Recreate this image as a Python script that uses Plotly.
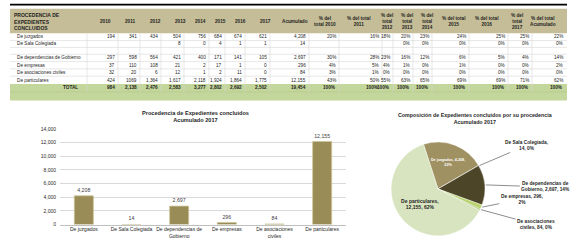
import math
import plotly.graph_objects as go

W, H = 576, 250

# ---------------- data ----------------
years = ["2010", "2011", "2012", "2013", "2014", "2015", "2016", "2017"]
row_labels = ["De juzgados", "De Sala Colegiada", "De dependencias de Gobierno",
              "De empresas", "De asociaciones civiles", "De particulares"]

juzgados = [194, 341, 434, 504, 756, 684, 674, 621]
sala = [None, None, None, 8, 0, 4, 1, 1]
dependencias = [297, 598, 564, 421, 400, 171, 141, 105]
empresas = [37, 110, 108, 21, 2, 17, 1, 0]
asociaciones = [32, 20, 6, 12, 1, 2, 11, 0]
particulares = [424, "1069", 1364, 1617, 2118, 1924, 1864, 1775]
totales = [984, 2138, 2476, 2583, 3277, 2802, 2692, 2502]

acumulado = [4208, 14, 2697, 296, 84, 12155]
total_acumulado = 19454

pct_juzgados = ["20%", "16%", "18%", "20%", "23%", "24%", "25%", "25%", "22%"]
pct_sala = ["", "", "", "0%", "0%", "0%", "0%", "0%", "0%"]
pct_dependencias = ["30%", "28%", "23%", "16%", "12%", "6%", "5%", "4%", "14%"]
pct_empresas = ["4%", "5%", "4%", "1%", "0%", "1%", "0%", "0%", "2%"]
pct_asociaciones = ["3%", "1%", "0%", "0%", "0%", "0%", "0%", "0%", "0%"]
pct_particulares = ["43%", "50%", "55%", "63%", "65%", "69%", "69%", "71%", "62%"]
pct_totales = ["100%"] * 9

table_headers = years + ["Acumulado", "% del<br>total 2010", "% del total<br>2011",
                         "% del<br>total<br>2012", "% del<br>total<br>2013",
                         "% del<br>total<br>2014", "% del total<br>2015",
                         "% del total<br>2016", "% del<br>total<br>2017",
                         "% del total<br>Acumulado"]

bar_tick_labels = ["De juzgados", "De Sala Colegiada", "De dependencias de<br>Gobierno",
                   "De empresas", "De asociaciones<br>civiles", "De particulares"]
pie_labels = ["De juzgados", "De Sala Colegiada", "De dependencias de Gobierno",
              "De empresas", "De asociaciones civiles", "De particulares"]

# ---------------- helpers ----------------
FONT = "Liberation Sans"
TXT = "#1f1f1f"
TS = 4.7  # table font size


def px(x):
    return x / W


def py(y):
    return 1 - y / H


def fmt(v):
    if v is None:
        return ""
    if isinstance(v, str):
        return v
    return f"{v:,}"


fig = go.Figure()
annotations = []
shapes = []

# ---------------- table ----------------
value_right = [116, 138, 159, 182, 207, 223, 243, 268, 307, 337, 380, 391, 411, 430, 467, 506, 530, 564]
header_center = [105, 130, 155, 180, 200, 220, 240, 265, 295, 325, 358, 387, 407, 427, 453, 486, 517, 543]
TL, TR = 10, 567
rows_y = [(31, 38.5), (38.5, 45.5), (52.5, 60), (60, 67.5), (67.5, 75), (75, 83)]
total_y = (83, 91)

shapes.append(dict(type="rect", xref="paper", yref="paper", x0=px(TL), x1=px(TR),
                   y0=py(2.6), y1=py(0.8), fillcolor="#000000", line_width=0))
shapes.append(dict(type="rect", xref="paper", yref="paper", x0=px(TL), x1=px(TR),
                   y0=py(31), y1=py(6), fillcolor="#c4bd97", line_width=0, layer="below"))
shapes.append(dict(type="rect", xref="paper", yref="paper", x0=px(TL), x1=px(TR),
                   y0=py(100), y1=py(83), fillcolor="#c3d69b", line_width=0, layer="below"))
shapes.append(dict(type="line", xref="paper", yref="paper", x0=px(TL), x1=px(TR),
                   y0=py(91), y1=py(91), line=dict(color="#b5c98d", width=0.6)))
for yb in [38.5, 45.5, 52.5, 60, 67.5, 75]:
    shapes.append(dict(type="line", xref="paper", yref="paper", x0=px(TL), x1=px(TR),
                       y0=py(yb), y1=py(yb), line=dict(color="#d6d6d6", width=0.6)))
for xv in [87] + [r + 2 for r in value_right[:-1]]:
    shapes.append(dict(type="line", xref="paper", yref="paper", x0=px(xv), x1=px(xv),
                       y0=py(91), y1=py(31), line=dict(color="#d6d6d6", width=0.6)))

annotations.append(dict(x=px(12), y=py(18.5), xref="paper", yref="paper", xanchor="left",
                        yanchor="middle", align="left", showarrow=False,
                        text="<b>PROCEDENCIA DE<br>EXPEDIENTES<br>CONCLUIDOS</b>",
                        font=dict(family=FONT, size=5, color=TXT)))
for hx, ht in zip(header_center, table_headers):
    annotations.append(dict(x=px(hx), y=py(18.5), xref="paper", yref="paper", xanchor="center",
                            yanchor="middle", align="center", showarrow=False,
                            text=f"<b>{ht}</b>", font=dict(family=FONT, size=TS, color=TXT)))

body_counts = [juzgados, sala, dependencias, empresas, asociaciones, particulares]
body_pcts = [pct_juzgados, pct_sala, pct_dependencias, pct_empresas, pct_asociaciones, pct_particulares]
for i, label in enumerate(row_labels):
    y0, y1 = rows_y[i]
    yc = (y0 + y1) / 2
    annotations.append(dict(x=px(15), y=py(yc), xref="paper", yref="paper", xanchor="left",
                            yanchor="middle", showarrow=False, text=label,
                            font=dict(family=FONT, size=TS, color=TXT)))
    cells = [fmt(v) for v in body_counts[i]] + [fmt(acumulado[i])] + body_pcts[i]
    for xr, t in zip(value_right, cells):
        if t == "":
            continue
        annotations.append(dict(x=px(xr + 1), y=py(yc), xref="paper", yref="paper",
                                xanchor="right", yanchor="middle", showarrow=False, text=t,
                                font=dict(family=FONT, size=TS, color=TXT)))
yc = sum(total_y) / 2
annotations.append(dict(x=px(80), y=py(yc), xref="paper", yref="paper", xanchor="right",
                        yanchor="middle", showarrow=False, text="<b>TOTAL</b>",
                        font=dict(family=FONT, size=TS, color=TXT)))
cells = [fmt(v) for v in totales] + [fmt(total_acumulado)] + pct_totales
for xr, t in zip(value_right, cells):
    annotations.append(dict(x=px(xr + 1), y=py(yc), xref="paper", yref="paper",
                            xanchor="right", yanchor="middle", showarrow=False,
                            text=f"<b>{t}</b>", font=dict(family=FONT, size=TS, color=TXT)))

# ---------------- bar chart ----------------
fig.add_trace(go.Bar(
    x=pie_labels, y=acumulado, width=0.4,
    marker=dict(color="#9a8c56", line=dict(color="#cdc59c", width=0.8)),
    text=[fmt(v) for v in acumulado], textposition="outside", cliponaxis=False,
    textfont=dict(family=FONT, size=5.2, color="#404040"),
    xaxis="x", yaxis="y", showlegend=False, hoverinfo="skip"))

annotations.append(dict(x=px(195), y=py(116), xref="paper", yref="paper", xanchor="center",
                        yanchor="middle", showarrow=False,
                        text="<b>Procedencia de Expedientes concluidos<br>Acumulado 2017</b>",
                        font=dict(family=FONT, size=5.6, color=TXT)))

# ---------------- pie chart ----------------
pc_x, pc_y, pr = 438, 190.5, 48
rotation = -18
pie_colors = ["#a09163", "#5b5a43", "#4d4528", "#b9d46e", "#93b551", "#d8e4bf"]
pie_text = ["<b>De juzgados, %{value:,},<br>%{percent:.0%}</b>", "",
            "", "", "", "<b>De particulares,<br>%{value:,}, %{percent:.0%}</b>"]
fig.add_trace(go.Pie(
    labels=pie_labels, values=acumulado, sort=False, direction="clockwise",
    rotation=rotation, texttemplate=pie_text, textposition="inside",
    insidetextorientation="horizontal",
    insidetextfont=dict(family=FONT, size=5, color=["#ffffff", TXT, TXT, TXT, TXT, TXT]),
    marker=dict(colors=pie_colors, line=dict(color="#ffffff", width=0.4)),
    domain=dict(x=[px(pc_x - pr), px(pc_x + pr)], y=[py(pc_y + pr), py(pc_y - pr)]),
    showlegend=False, hoverinfo="skip"))

annotations.append(dict(x=px(475), y=py(118), xref="paper", yref="paper", xanchor="center",
                        yanchor="middle", showarrow=False,
                        text="<b>Composición de Expedientes concluidos por su procedencia<br>Acumulado 2017</b>",
                        font=dict(family=FONT, size=5.3, color=TXT)))

tot = sum(acumulado)
cum = 0
mids = []
for v in acumulado:
    mids.append(rotation + 360 * (cum + v / 2) / tot)
    cum += v

outside = {
    1: ("<b>De Sala Colegiada,<br>14, 0%</b>", 47, -20),
    2: ("<b>De dependencias de<br>Gobierno, 2,697, 14%</b>", 60, 2),
    3: ("<b>De empresas, 296,<br>2%</b>", 40, -8),
    4: ("<b>De asociaciones<br>civiles, 84, 0%</b>", 55, 15),
}
for idx, (txt, ax, ay) in outside.items():
    a = math.radians(mids[idx])
    ex = pc_x + pr * math.sin(a)
    ey = pc_y - pr * math.cos(a)
    annotations.append(dict(x=px(ex), y=py(ey), xref="paper", yref="paper", ax=ax, ay=ay,
                            showarrow=True, arrowhead=0, arrowwidth=0.6, arrowcolor="#404040",
                            text=txt, align="center",
                            font=dict(family=FONT, size=4.8, color=TXT)))

fig.update_layout(
    width=W, height=H, autosize=False,
    margin=dict(l=0, r=0, t=0, b=0),
    paper_bgcolor="#ffffff", plot_bgcolor="#ffffff",
    bargap=0.6,
    xaxis=dict(domain=[px(60), px(346)], tickvals=pie_labels, ticktext=bar_tick_labels,
               tickfont=dict(family=FONT, size=5, color=TXT), showline=True,
               linecolor="#bfbfbf", linewidth=0.8, ticks="", showgrid=False, fixedrange=True),
    yaxis=dict(domain=[py(227), py(129)], range=[0, 14000], dtick=2000, tickformat=",",
               tickfont=dict(family=FONT, size=5, color=TXT), showgrid=True,
               gridcolor="#d9d9d9", gridwidth=0.8, zeroline=False, showline=False,
               ticks="", ticklabelstandoff=3, fixedrange=True),
    shapes=shapes, annotations=annotations,
    font=dict(family=FONT),
)

fig.write_html("out.html", config={"displayModeBar": False},
               post_script="document.body.style.margin='0';document.body.style.overflow='hidden';")
